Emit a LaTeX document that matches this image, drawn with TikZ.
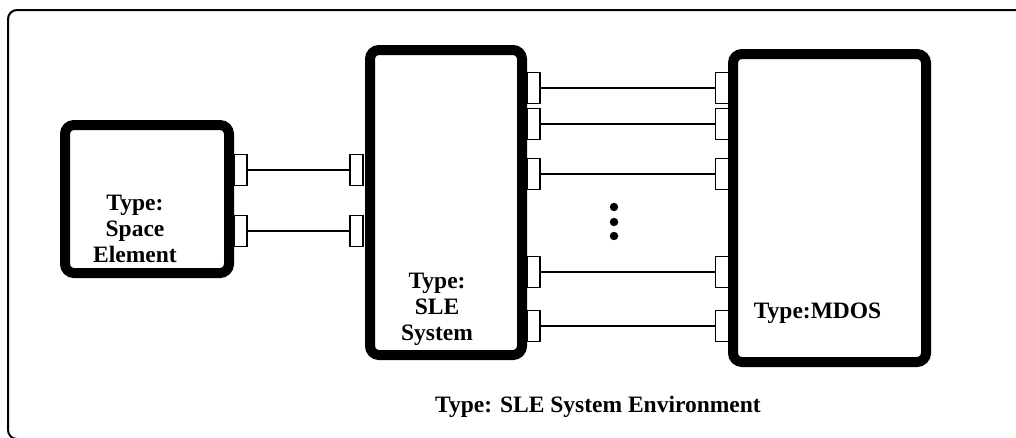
\documentclass[tikz,border=0pt]{standalone}
\usepackage{fontspec}
\setmainfont{Liberation Serif}

\begin{document}
\begin{tikzpicture}[x = 1pt, y = -1pt,
    block/.style = {draw, line width = 10pt, rounded corners = 9pt, inner sep = 0pt},
    port/.style = {draw, fill = white, line width = 1.4pt, minimum width = 13pt, minimum height = 31pt, inner sep = 0pt},
    link/.style = {line width = 1.4pt},
    typeLabel/.style = {align = center, inner sep = 0pt, font = \fontsize{23.5}{26}\selectfont\bfseries}]
    \clip (0,0) rectangle (1016,437);
    \draw[line width = 2pt, rounded corners = 9pt] (8,10) rectangle (1040,439);

    \node[block, minimum width = 164pt, minimum height = 148pt](spaceElement) at (147,199) {};
    \node[block, minimum width = 152pt, minimum height = 305pt](sleSystem) at (446,202.5) {};
    \node[block, minimum width = 193pt, minimum height = 308pt](mdos) at (829.5,208) {};

    \node[typeLabel, anchor = north](spaceLabel) at (135,195) {Type:\\Space\\Element};
    \node[typeLabel, anchor = north](sleLabel) at (437,273) {Type:\\ SLE\\System};
    \node[typeLabel, anchor = north](mdosLabel) at (817.5,303) {Type:MDOS};
    \node[typeLabel, anchor = north](envLabel) at (598,396) {Type: SLE System Environment};

    \foreach \i/\y in {1/170, 2/231} {
        \node[port](seOut\i) at (240.5,\y) {};
        \node[port](sleIn\i) at (356.5,\y) {};
        \draw[link] (seOut\i) -- (sleIn\i);
    }
    \foreach \i/\y in {1/88, 2/124, 3/174, 4/272, 5/326} {
        \node[port](sleOut\i) at (533.5,\y) {};
        \node[port](mdosIn\i) at (722,\y) {};
        \draw[link] (sleOut\i) -- (mdosIn\i);
    }

    \foreach \y in {207, 222, 236}
        \fill (614,\y) circle (4.2);
\end{tikzpicture}
\end{document}
